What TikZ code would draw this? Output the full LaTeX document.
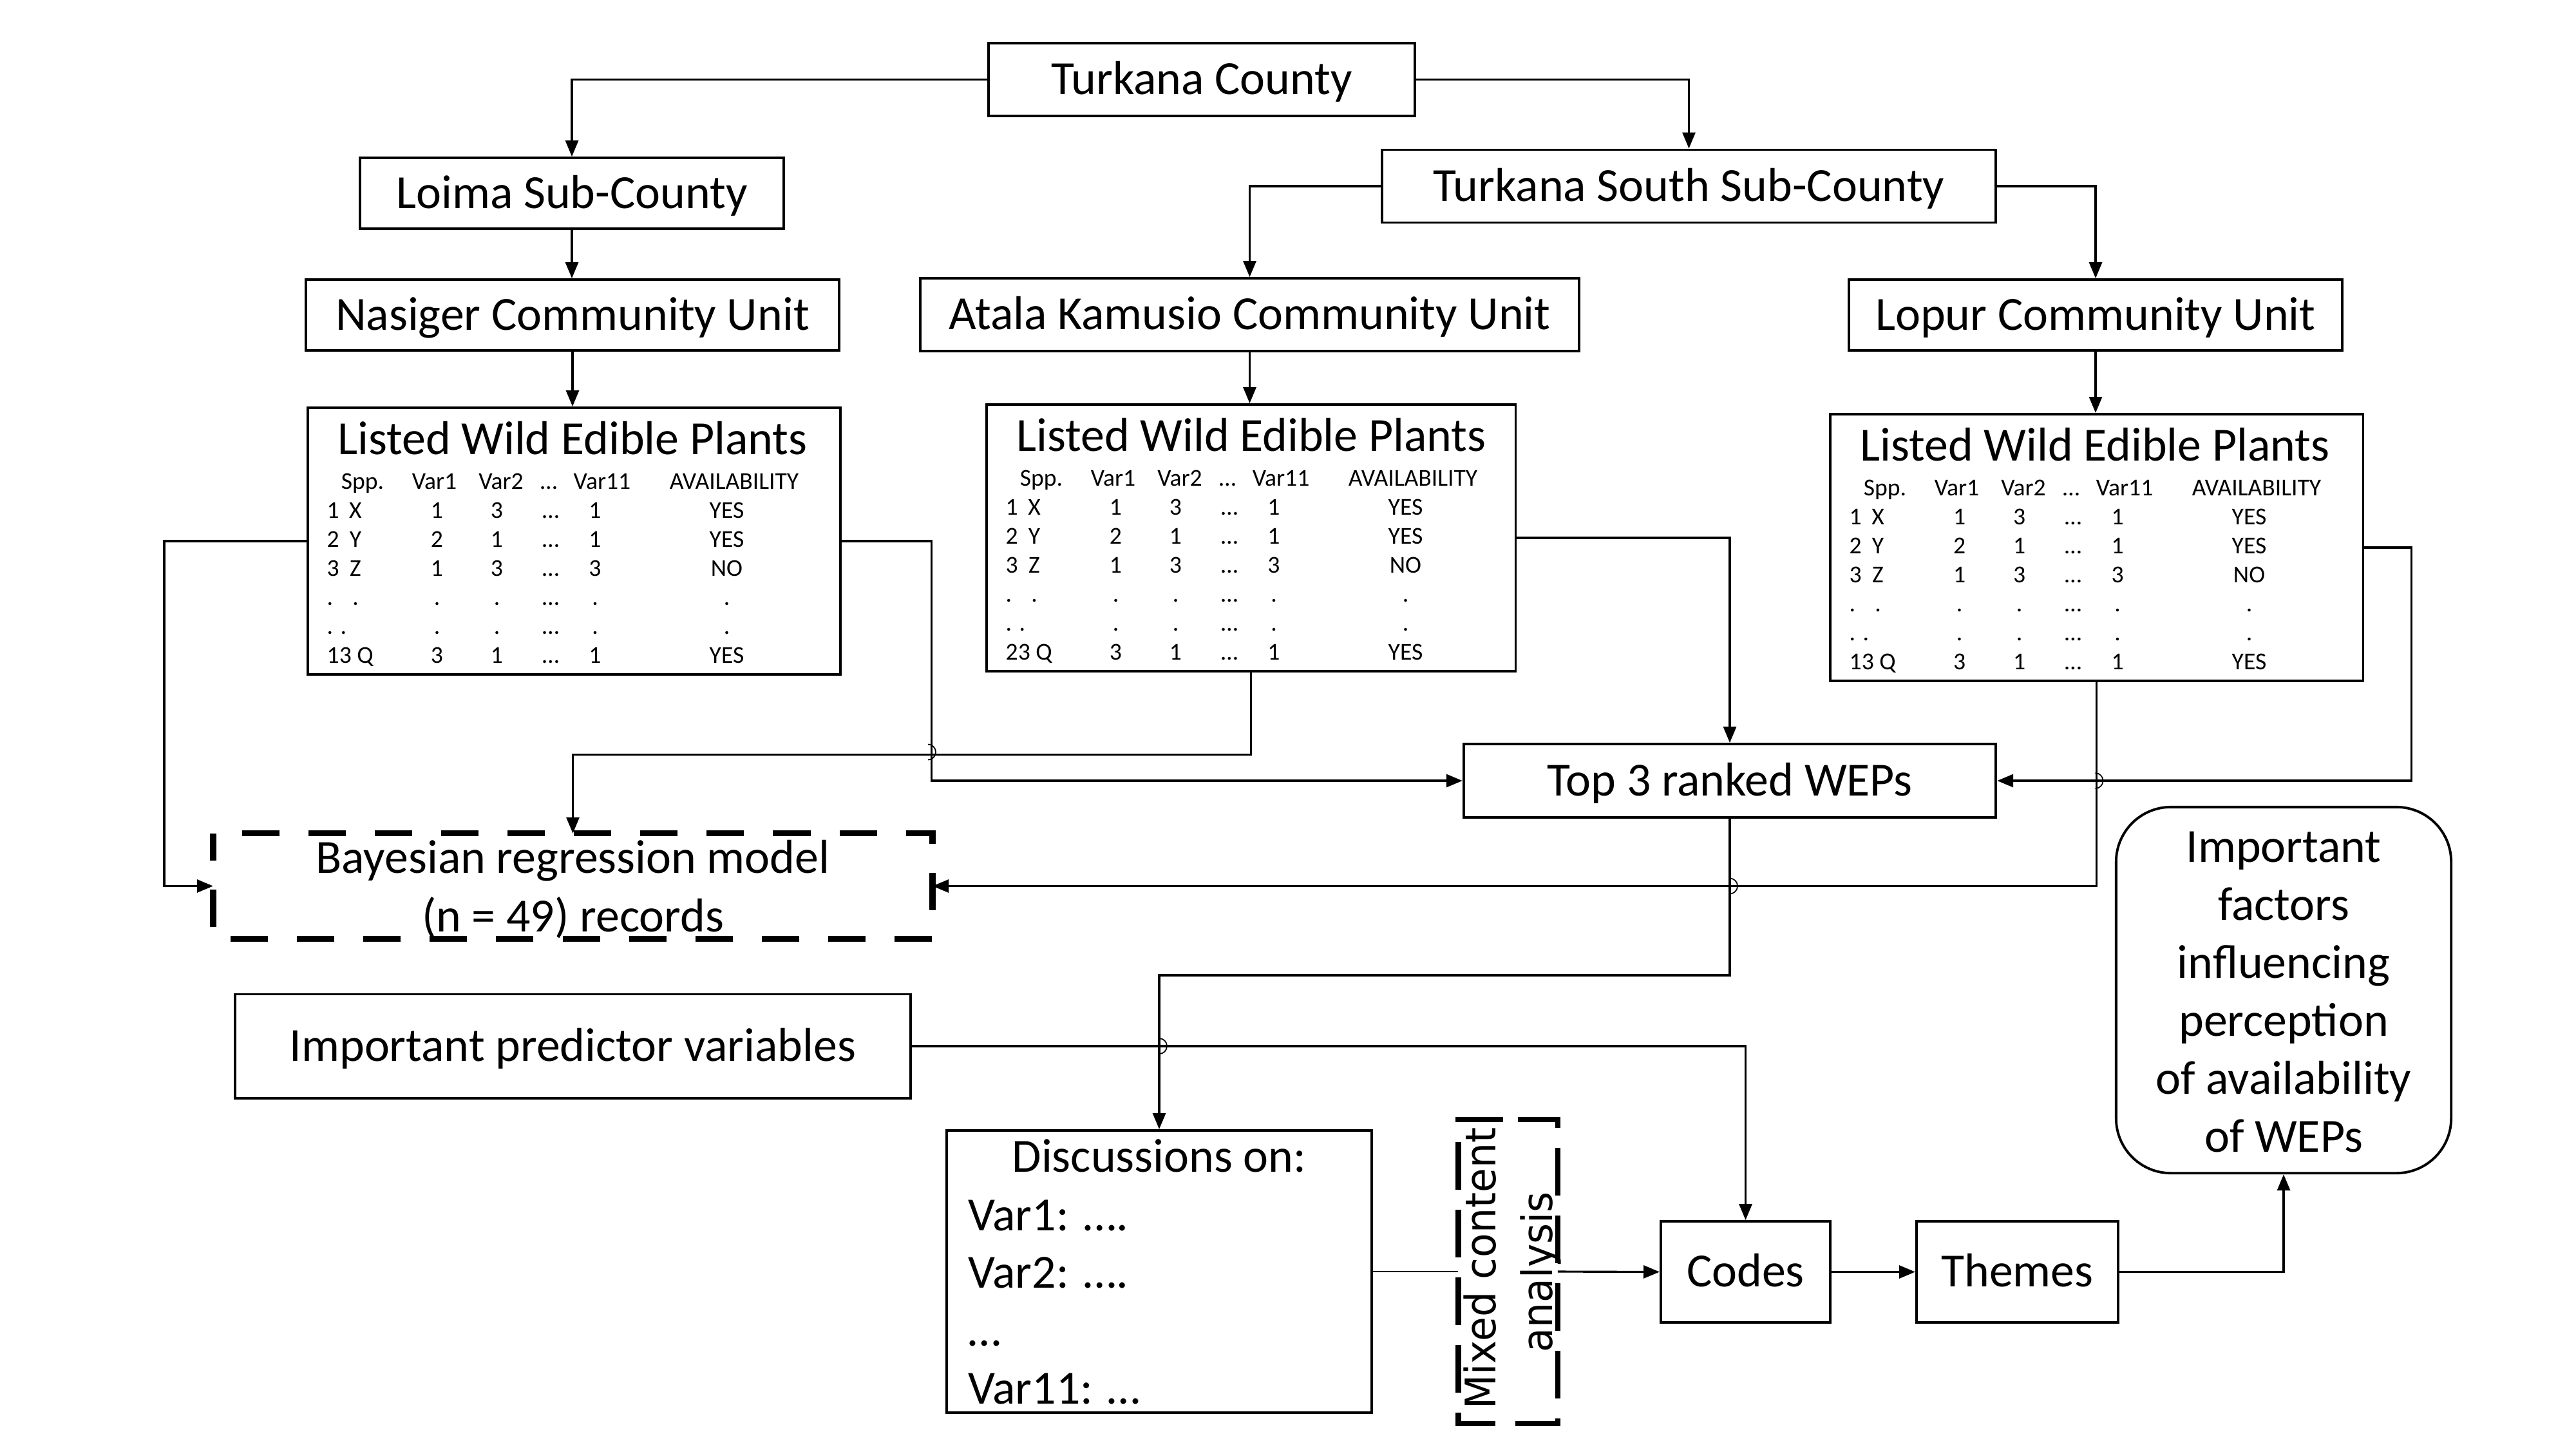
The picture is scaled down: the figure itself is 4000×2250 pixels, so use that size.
\documentclass[tikz,border=0pt]{standalone}
\usepackage{fontspec}
\usepackage{graphicx}
\setmainfont{Carlito}
\newfontfamily\mcafont{DejaVu Sans}
\usetikzlibrary{arrows.meta}
\newcommand\bigf{\fontsize{21}{25.6}\selectfont}
\newcommand\smallf{\fontsize{10.7}{12.8}\selectfont}
\newcommand\mcaf{\mcafont\fontsize{18.6}{22}\selectfont}
\newcommand\wrow[7]{%
  \node[tt, anchor=base west] at (31,#1) {#2};
  \node[tt, anchor=base] at (76,#1) {#3};
  \node[tt, anchor=base] at (202.5,#1) {#4};
  \node[tt, anchor=base] at (295.5,#1) {#5};
  \node[tt, anchor=base] at (379,#1) {…};
  \node[tt, anchor=base] at (448,#1) {#6};
  \node[tt, anchor=base] at (652.5,#1) {#7};}
\newcommand\wtable[5]{%
  \node[box, minimum width=#5, minimum height=4.14cm, anchor=north west] (#1) at (#2,#3) {};
  \begin{scope}[shift={(#2,#3)}]
    \node[lbl, anchor=base] at (413,74) {Listed Wild Edible Plants};
    \node[tt, anchor=base] at (87,128) {Spp.};
    \node[tt, anchor=base] at (198.5,128) {Var1};
    \node[tt, anchor=base] at (302,128) {Var2};
    \node[tt, anchor=base] at (376,128) {…};
    \node[tt, anchor=base] at (459,128) {Var11};
    \node[tt, anchor=base] at (664,128) {AVAILABILITY};
    \wrow{173}{1}{X}{1}{3}{1}{YES}
    \wrow{218}{2}{Y}{2}{1}{1}{YES}
    \wrow{263}{3}{Z}{1}{3}{3}{NO}
    \wrow{308}{.}{.}{.}{.}{.}{.}
    \wrow{353}{. .}{}{.}{.}{.}{.}
    \wrow{398}{#4}{}{3}{1}{1}{YES}
  \end{scope}}
\newcommand\mkhop[2]{\draw[hopline] (#1,#2-12) arc[start angle=90,end angle=-90,x radius=0.12cm,y radius=0.12cm];}
\begin{document}
\begin{tikzpicture}[x=0.01cm,y=-0.01cm,
  box/.style={draw, line width=1.1pt, inner sep=0pt, font=\bigf, text height=13.2pt, text depth=0pt, align=center},
  conn/.style={line width=0.9pt, -{Triangle[length=0.25cm,width=0.2cm]}},
  tt/.style={inner sep=0pt, font=\smallf},
  lbl/.style={inner sep=0pt, font=\bigf},
  bdash/.style={line width=2.6pt, dash pattern=on 0.58cm off 0.45cm, dash phase=0.58cm},
  mdash/.style={line width=2.4pt, dash pattern=on 0.74cm off 0.31cm, dash phase=0.895cm},
  hopline/.style={line width=0.5pt}]
\path[use as bounding box, fill=white] (0,0) rectangle (4000,2250);

% hierarchy boxes
\node[box, minimum width=6.62cm, minimum height=1.13cm] (tc) at (1866,123.5) {Turkana County};
\node[box, minimum width=6.58cm, minimum height=1.10cm] (loima) at (888,300) {Loima Sub-County};
\node[box, minimum width=9.53cm, minimum height=1.13cm] (tsouth) at (2622.5,289) {Turkana South Sub-County};
\node[box, minimum width=8.27cm, minimum height=1.10cm] (nasiger) at (889,489) {Nasiger Community Unit};
\node[box, minimum width=10.23cm, minimum height=1.13cm] (atala) at (1940.5,488.5) {Atala Kamusio Community Unit};
\node[box, minimum width=7.66cm, minimum height=1.10cm] (lopur) at (3254,489) {Lopur Community Unit};

% tables
\wtable{tabL}{476}{631}{13 Q}{8.27cm}
\wtable{tabM}{1530}{626}{23 Q}{8.21cm}
\wtable{tabR}{2840}{641}{13 Q}{8.27cm}

% middle boxes
\node[box, minimum width=8.26cm, minimum height=1.14cm] (top3) at (2686,1212) {Top 3 ranked WEPs};
\node[inner sep=0pt, minimum width=11.15cm, minimum height=1.62cm] (bayes) at (889.5,1375.5) {};
\draw[bdash] (bayes.north west) -- (bayes.north east) -- (bayes.south east) -- (bayes.south west) -- cycle;
\node[lbl, anchor=base] at (889.5,1355) {Bayesian regression model};
\node[lbl, anchor=base] at (889.5,1446) {(n = 49) records};
\node[box, minimum width=10.49cm, minimum height=1.61cm] (pred) at (889.5,1624) {Important predictor variables};

% discussions
\node[box, minimum width=6.60cm, minimum height=4.38cm] (disc) at (1800,1974) {};
\node[lbl, anchor=base] at (1800,1819) {Discussions on:};
\node[lbl, anchor=base west] at (1503,1910) {Var1: ….};
\node[lbl, anchor=base west] at (1503,1999) {Var2: ….};
\node[lbl, anchor=base west] at (1503,2089) {…};
\node[lbl, anchor=base west] at (1503,2179) {Var11: …};

% mixed content analysis
\node[inner sep=0pt, minimum width=1.53cm, minimum height=4.70cm] (mca) at (2341.5,1974) {};
\draw[mdash] (mca.north) -- (mca.north east) -- (mca.south east) -- (mca.south west) -- (mca.north west) -- cycle;
\node[rotate=90, anchor=base, inner sep=0pt, font=\mcaf] at (2322,1969) {\scalebox{0.94}[1]{Mixed content}};
\node[rotate=90, anchor=base, inner sep=0pt, font=\mcaf] at (2410,1974.5) {\scalebox{0.94}[1]{analysis}};

% codes, themes, factors
\node[box, minimum width=2.63cm, minimum height=1.57cm] (codes) at (2710.5,1974.5) {Codes};
\node[box, minimum width=3.13cm, minimum height=1.57cm] (themes) at (3132.5,1974.5) {Themes};
\node[box, rounded corners=0.85cm, minimum width=5.20cm, minimum height=5.68cm] (factors) at (3546,1537) {};
\node[lbl, anchor=base] at (3546,1338) {\begin{tabular}[t]{@{}c@{}}Important\\factors\\influencing\\perception\\of availability\\of WEPs\end{tabular}};

% connectors
\draw[conn] (tc.west) -| (loima.north);
\draw[conn] (tc.east) -| (tsouth.north);
\draw[conn] (loima.south) -- (loima.south |- nasiger.north);
\draw[conn] (tsouth.west) -| (atala.north);
\draw[conn] (tsouth.east) -| (lopur.north);
\draw[conn] (nasiger.south) -- (nasiger.south |- tabL.north);
\draw[conn] (atala.south) -- (atala.south |- tabM.north);
\draw[conn] (lopur.south) -- (lopur.south |- tabR.north);

\draw[conn] (tabL.west) -- ++(-221,0) |- (bayes.west);
\draw[conn] (tabL.east) -- ++(139,0) |- (top3.west);
\draw[conn] (tabM.south) -- ++(0,127) -| (bayes.north);
\draw[conn] (tabM.east) -| (top3.north);
\draw[conn] (tabR.east) -- ++(73,0) |- (top3.east);
\draw[conn] (tabR.south) |- (bayes.east);
\draw[conn] (top3.south) -- ++(0,243) -| (disc.north);
\draw[conn] (pred.east) -| (codes.north);
\draw[line width=0.4pt] (disc.east) -- (mca.west);
\draw[conn] (mca.east) -- (codes.west);
\draw[conn] (codes.east) -- (themes.west);
\draw[conn] (themes.east) -| (factors.south);

% line jumps
\mkhop{1441}{1167.5}
\mkhop{3253.5}{1212}
\mkhop{2686}{1375.5}
\mkhop{1800}{1624}
\end{tikzpicture}
\end{document}
